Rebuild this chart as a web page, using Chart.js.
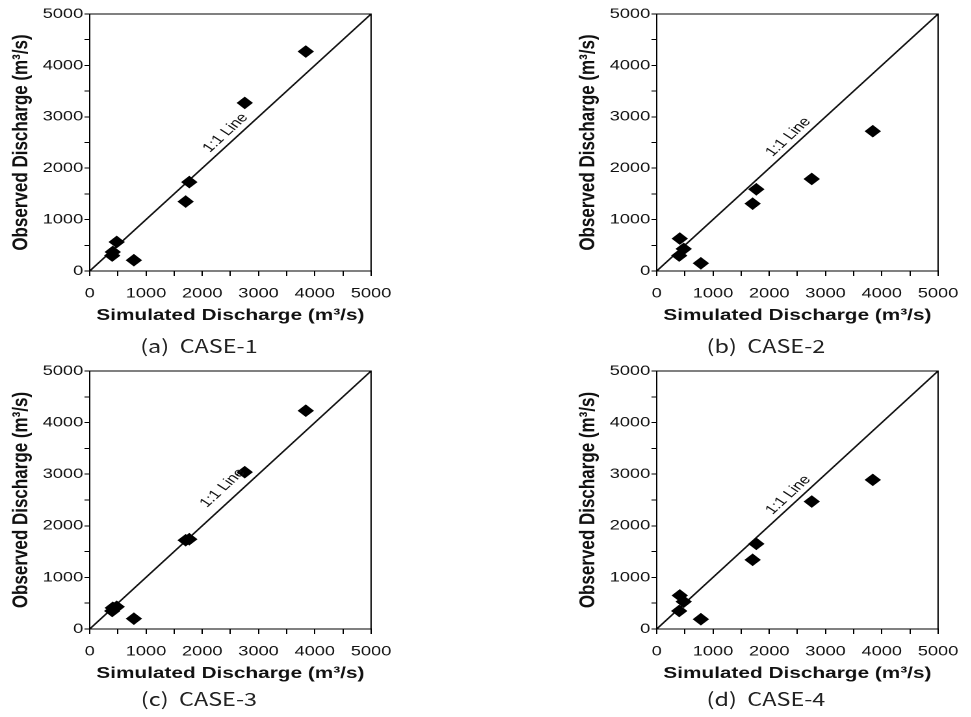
<!DOCTYPE html>
<html>
<head>
<meta charset="utf-8">
<script src="https://cdn.jsdelivr.net/npm/chart.js@4.4.0/dist/chart.umd.min.js"></script>
<style>
    body { margin: 0; background: #fff; width: 971px; height: 717px; overflow: hidden; position: relative; }
    .panel { position: absolute; width: 310px; height: 360px; transform: scaleX(1.3); transform-origin: 0 0; }
    .panel canvas { position: absolute; left: 0; top: 0; }
    .cap { position: absolute; left: 0; width: 306px; text-align: center; font-family: "Noto Sans CJK KR", sans-serif; font-size: 18px; line-height: 22px; color: #222; white-space: pre; }
</style>
</head>
<body>
<div class="panel" style="left:0;top:0"><canvas id="case1" width="310" height="330"></canvas><div class="cap" style="top:334px">(a)  CASE-1</div></div>
<div class="panel" style="left:567px;top:0"><canvas id="case2" width="310" height="330"></canvas><div class="cap" style="top:334px">(b)  CASE-2</div></div>
<div class="panel" style="left:0;top:357px"><canvas id="case3" width="310" height="330"></canvas><div class="cap" style="top:330px">(c)  CASE-3</div></div>
<div class="panel" style="left:567px;top:357px"><canvas id="case4" width="310" height="330"></canvas><div class="cap" style="top:330px">(d)  CASE-4</div></div>

<script>
// data (m3/s)
const simulated = [400, 410, 480, 785, 1705, 1770, 2755, 3840];
const observedCase1 = [300, 370, 565, 210, 1350, 1730, 3270, 4270];
const observedCase2 = [300, 630, 430, 150, 1310, 1590, 1790, 2720];
const observedCase3 = [350, 410, 430, 200, 1720, 1740, 3040, 4230];
const observedCase4 = [350, 650, 530, 190, 1340, 1650, 2470, 2890];

const axisMin = 0;
const axisMax = 5000;
const lineEnds = [0, 5000];          // 1:1 line
const lineLabelAt = [[2414, 2685], [2340, 2607], [2362, 2733], [2340, 2597]];

const FONT = "'Liberation Sans', Arial, sans-serif";

// frame around plot area + rotated "1:1 Line" text
const framePlugin = {
    id: 'frame',
    afterDatasetsDraw(chart, args, opts) {
        const { ctx, chartArea: a, scales: { x, y } } = chart;
        ctx.save();
        ctx.strokeStyle = '#000';
        ctx.lineWidth = 1;
        ctx.strokeRect(a.left, a.top, a.right - a.left, a.bottom - a.top);

        const ang = Math.atan2(y.getPixelForValue(lineEnds[1]) - y.getPixelForValue(lineEnds[0]),
                               x.getPixelForValue(lineEnds[1]) - x.getPixelForValue(lineEnds[0]));
        ctx.translate(x.getPixelForValue(opts.at[0]), y.getPixelForValue(opts.at[1]));
        ctx.rotate(ang);
        ctx.fillStyle = '#111';
        ctx.font = '13px ' + FONT;
        ctx.textAlign = 'center';
        ctx.textBaseline = 'middle';
        ctx.fillText('1:1 Line', 0, 0);
        ctx.restore();
    }
};

function makeChart(id, observed, labelAt, axisHeight) {
    const ctx = document.getElementById(id).getContext('2d');
    return new Chart(ctx, {
        type: 'scatter',
        data: {
            datasets: [{
                data: simulated.map((s, i) => ({ x: s, y: observed[i] })),
                pointStyle: 'rectRot',
                pointRadius: 5.6,
                pointBorderWidth: 1,
                backgroundColor: '#000',
                borderColor: '#000'
            }, {
                type: 'line',
                data: lineEnds.map(v => ({ x: v, y: v })),
                borderColor: '#111',
                borderWidth: 1.4,
                pointRadius: 0,
                fill: false
            }]
        },
        options: {
            responsive: false,
            animation: false,
            devicePixelRatio: 2,
            layout: { padding: { top: 14, right: 18, left: 0, bottom: 0 } },
            plugins: {
                legend: { display: false },
                tooltip: { enabled: false },
                frame: { at: labelAt }
            },
            scales: {
                x: {
                    type: 'linear', min: axisMin, max: axisMax,
                    border: { color: '#000' },
                    grid: { drawOnChartArea: false, color: '#000', tickLength: 5 },
                    ticks: {
                        stepSize: 500, autoSkip: false, maxRotation: 0, padding: 9,
                        color: '#111', font: { family: FONT, size: 14 },
                        callback: v => (v % 1000 === 0 ? v : '')
                    },
                    title: {
                        display: true, text: 'Simulated Discharge (m³/s)', color: '#111',
                        font: { family: FONT, size: 16, weight: 'bold' },
                        padding: { top: 0, bottom: axisHeight === 59 ? 5 : 4 }
                    },
                    afterFit: s => { s.height = axisHeight; }
                },
                y: {
                    type: 'linear', min: axisMin, max: axisMax,
                    border: { color: '#000' },
                    grid: { drawOnChartArea: false, color: '#000', tickLength: 4 },
                    ticks: {
                        stepSize: 500, autoSkip: false, padding: 1,
                        color: '#111', font: { family: FONT, size: 14 },
                        callback: v => (v % 1000 === 0 ? v : '')
                    },
                    title: {
                        display: true, text: 'Observed Discharge (m³/s)', color: '#111',
                        font: { family: FONT, size: 17, weight: 'bold' },
                        padding: { top: 6, bottom: 0 }
                    },
                    afterFit: s => { s.width = 69; }
                }
            }
        },
        plugins: [framePlugin]
    });
}

makeChart('case1', observedCase1, lineLabelAt[0], 59);
makeChart('case2', observedCase2, lineLabelAt[1], 59);
makeChart('case3', observedCase3, lineLabelAt[2], 58);
makeChart('case4', observedCase4, lineLabelAt[3], 58);
</script>
</body>
</html>
